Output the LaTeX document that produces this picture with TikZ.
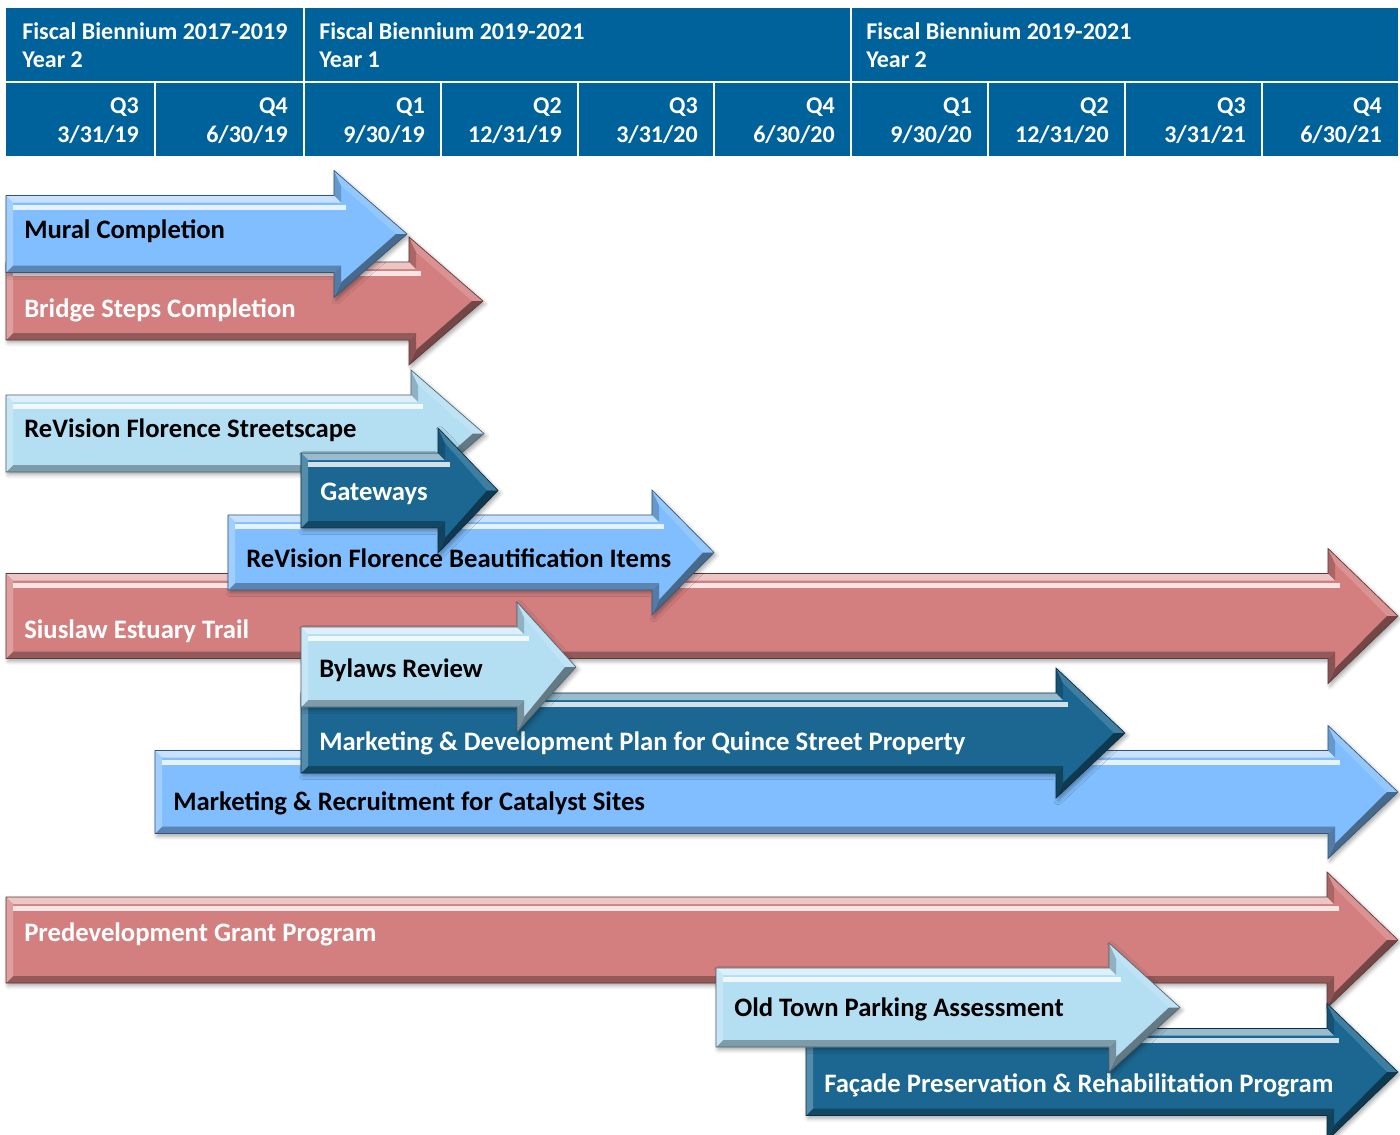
\documentclass[tikz,border=0pt]{standalone}
\usepackage{fontspec}
\setmainfont{Carlito}
\usetikzlibrary{shadows.blur}
\definecolor{hdr}{RGB}{0,98,155}
\definecolor{ablue}{RGB}{128,190,255}
\definecolor{ared}{RGB}{212,127,127}
\definecolor{alight}{RGB}{180,222,242}
\definecolor{adark}{RGB}{27,103,145}
% #1 name, #2 colour, #3 x left, #4 x head start, #5 x tip, #6 y centre, #7 half body height
\newcommand\garrow[7]{%
 \coordinate (#1-A) at (#3,{#6-#7});
 \coordinate (#1-B) at (#4,{#6-#7});
 \coordinate (#1-C) at (#4,{#6-#7-25});
 \coordinate (#1-T) at (#5,#6);
 \coordinate (#1-D) at (#4,{#6+#7+25});
 \coordinate (#1-E) at (#4,{#6+#7});
 \coordinate (#1-F) at (#3,{#6+#7});
 \coordinate (#1-a) at ({#3+7},{#6-#7+7});
 \coordinate (#1-b) at ({#4+7},{#6-#7+7});
 \coordinate (#1-c) at ({#4+7},{#6-#7-10});
 \coordinate (#1-t) at ({#5-11},#6);
 \coordinate (#1-d) at ({#4+7},{#6+#7+10});
 \coordinate (#1-e) at ({#4+7},{#6+#7-7});
 \coordinate (#1-f) at ({#3+7},{#6+#7-7});
 \fill[#2, blur shadow={shadow xshift=1.5pt,shadow yshift=-2pt,shadow blur radius=3pt,shadow opacity=35}]
   (#1-A)--(#1-B)--(#1-C)--(#1-T)--(#1-D)--(#1-E)--(#1-F)--cycle;
 \fill[#2!45!white] (#1-A)--(#1-B)--(#1-b)--(#1-a)--cycle;
 \fill[#2!80!black] (#1-B)--(#1-C)--(#1-c)--(#1-b)--cycle;
 \fill[#2!85!white] (#1-C)--(#1-T)--(#1-t)--(#1-c)--cycle;
 \fill[#2!55!black] (#1-T)--(#1-D)--(#1-d)--(#1-t)--cycle;
 \fill[#2!65!black] (#1-D)--(#1-E)--(#1-e)--(#1-d)--cycle;
 \fill[#2!70!black] (#1-E)--(#1-F)--(#1-f)--(#1-e)--cycle;
 \fill[#2!75!white] (#1-F)--(#1-A)--(#1-a)--(#1-f)--cycle;
 \fill[white,opacity=0.8] ({#3+7},{#6-#7+9}) rectangle ({#4+12},{#6-#7+14});
 \draw[#2!45!black,line width=0.5pt]
   (#1-A)--(#1-B)--(#1-C)--(#1-T)--(#1-D)--(#1-E)--(#1-F)--cycle;
}
\begin{document}
\begin{tikzpicture}[x=0.75pt,y=-0.75pt,
  hdrtxt/.style={text=white,font=\fontsize{18}{21}\selectfont\bfseries,inner sep=0pt},
  atxt/.style={font=\fontsize{20}{23}\selectfont\bfseries,inner sep=0pt,anchor=base west},
  wtxt/.style={atxt,text=white},
  btxt/.style={atxt,text=black},
  sep/.style={white,line width=1.5pt}]
\useasboundingbox (0,0) rectangle (1400,1135);
\clip (0,0) rectangle (1400,1135);
% header
\fill[hdr] (6,8) rectangle (1398,156);
\draw[sep] (6,81.5) -- (1398,81.5);
\foreach \x in {304,851} \draw[sep] (\x,8) -- (\x,81.5);
\foreach \x in {155,304,441,578,714,851,988,1125,1262} \draw[sep] (\x,81.5) -- (\x,156);
\node[hdrtxt,anchor=base west] (b1) at (22,39) {Fiscal Biennium 2017-2019};
\node[hdrtxt,anchor=base west] (b1y) at (22,67) {Year 2};
\node[hdrtxt,anchor=base west] (b2) at (319,39) {Fiscal Biennium 2019-2021};
\node[hdrtxt,anchor=base west] (b2y) at (319,67) {Year 1};
\node[hdrtxt,anchor=base west] (b3) at (866,39) {Fiscal Biennium 2019-2021};
\node[hdrtxt,anchor=base west] (b3y) at (866,67) {Year 2};
\foreach \r/\q/\d [count=\i] in {155/Q3/3\slash 31\slash 19,304/Q4/6\slash 30\slash 19,441/Q1/9\slash 30\slash 19,578/Q2/12\slash 31\slash 19,714/Q3/3\slash 31\slash 20,851/Q4/6\slash 30\slash 20,988/Q1/9\slash 30\slash 20,1125/Q2/12\slash 31\slash 20,1262/Q3/3\slash 31\slash 21,1398/Q4/6\slash 30\slash 21}{
  \node[hdrtxt,anchor=base east] (q\i) at (\r-16,113) {\q};
  \node[hdrtxt,anchor=base east] (d\i) at (\r-16,142) {\d};
}
% arrows
\garrow{bridge}{ared}{6}{409}{483}{301}{39}
\node[wtxt] (bridgeT) at (24,317) {Bridge Steps Completion};
\garrow{mural}{ablue}{6}{334}{407}{234}{38.5}
\node[btxt] (muralT) at (24,238) {Mural Completion};
\garrow{street}{alight}{6}{411}{484}{433.5}{38.5}
\node[btxt] (streetT) at (24,437) {ReVision Florence Streetscape};
\garrow{siuslaw}{ared}{6}{1328}{1398}{616}{42.5}
\node[wtxt] (siuslawT) at (24,638) {Siuslaw Estuary Trail};
\garrow{beaut}{ablue}{228}{652}{714}{552.5}{37.5}
\node[btxt] (beautT) at (246,567) {ReVision Florence Beautification Items};
\garrow{gate}{adark}{301}{438}{498}{490.5}{37.5}
\node[wtxt] (gateT) at (320,500) {Gateways};
\garrow{catal}{ablue}{155}{1328}{1398}{792}{41.5}
\node[btxt] (catalT) at (173,810) {Marketing \& Recruitment for Catalyst Sites};
\garrow{mdev}{adark}{301}{1056}{1125}{733}{40}
\node[wtxt] (mdevT) at (319,750) {Marketing \& Development Plan for Quince Street Property};
\garrow{bylaw}{alight}{301}{517}{576}{667}{40}
\node[btxt] (bylawT) at (319,677) {Bylaws Review};
\garrow{predev}{ared}{6}{1327}{1398}{940}{43}
\node[wtxt] (predevT) at (24,941) {Predevelopment Grant Program};
\garrow{facade}{adark}{806}{1327}{1398}{1072}{43.5}
\node[wtxt] (facadeT) at (824,1092) {Façade Preservation \& Rehabilitation Program};
\garrow{oldtown}{alight}{716}{1109}{1180}{1007.5}{39.5}
\node[btxt] (oldtownT) at (734,1016) {Old Town Parking Assessment};
\end{tikzpicture}
\end{document}
